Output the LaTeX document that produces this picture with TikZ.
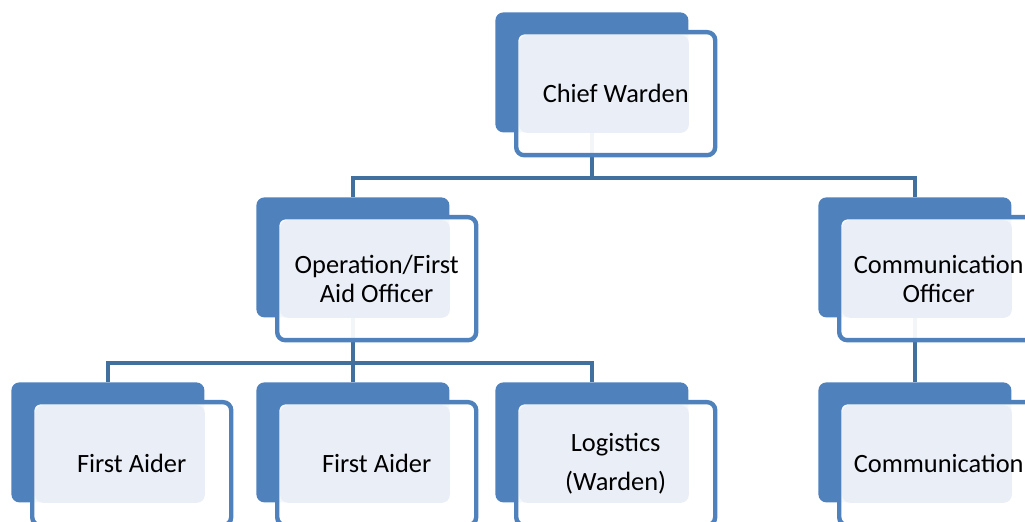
\documentclass[tikz,border=0pt]{standalone}
\usepackage{fontspec}
\setmainfont{Carlito}
\usepackage{xcolor}
\usepackage{tikz}
\usetikzlibrary{positioning,backgrounds}

\definecolor{unitblue}{HTML}{4F81BD}
\definecolor{linkblue}{HTML}{41709F}
\definecolor{unitlight}{HTML}{EAEFF7}

\tikzset{
  unitback/.style={fill=unitblue, rounded corners=4pt, inner sep=0pt,
    minimum width=96.5pt, minimum height=60pt, anchor=north west},
  unitfront/.style={draw=unitblue, line width=2.2pt, fill=white, fill opacity=0.94,
    text opacity=1, rounded corners=4pt, inner sep=0pt, align=center,
    minimum width=99.5pt, minimum height=61.5pt, anchor=north west,
    font=\fontsize{13.2}{14.5}\selectfont},
  link/.style={draw=linkblue, line width=2pt}
}

% back box, front box with light face, text
\newcommand{\orgunit}[4]{%
  \node[unitback] (#1) at (#2,#3) {};
  \node[unitfront, xshift=9.5pt, yshift=-9pt,
    path picture={\fill[unitlight, fill opacity=1, rounded corners=4pt]
      ([shift={(1.5pt,-1.5pt)}]path picture bounding box.north west)
      rectangle (#1.south east);}] (#1-t) at (#1.north west) {#4};
}

\begin{document}
\begin{tikzpicture}[x=0.5pt, y=-0.5pt]
\clip (0,0) rectangle (1025,522);

% Units
\orgunit{chief}{495}{12}{Chief Warden}
\orgunit{ops}{256}{197}{Operation/First\\Aid Officer}
\orgunit{commoff}{818}{197}{Communication\\Officer}
\orgunit{aiderA}{11}{382}{First Aider}
\orgunit{aiderB}{256}{382}{First Aider}
\orgunit{logis}{495}{382}{Logistics\\[5pt](Warden)}
\orgunit{comm}{818}{382}{Communication}

% Connectors
\begin{pgfonlayer}{background}
\draw[link] (chief.south) -- ++(0,45) coordinate (chiefbar);
\draw[link] (ops.north) |- (chiefbar) -| (commoff.north);
\draw[link] (ops.south) -- ++(0,45) coordinate (opsbar);
\draw[link] (aiderA.north) |- (opsbar) -| (logis.north);
\draw[link] (opsbar) -- (aiderB.north);
\draw[link] (commoff.south) -- (comm.north);
\end{pgfonlayer}
\end{tikzpicture}
\end{document}
